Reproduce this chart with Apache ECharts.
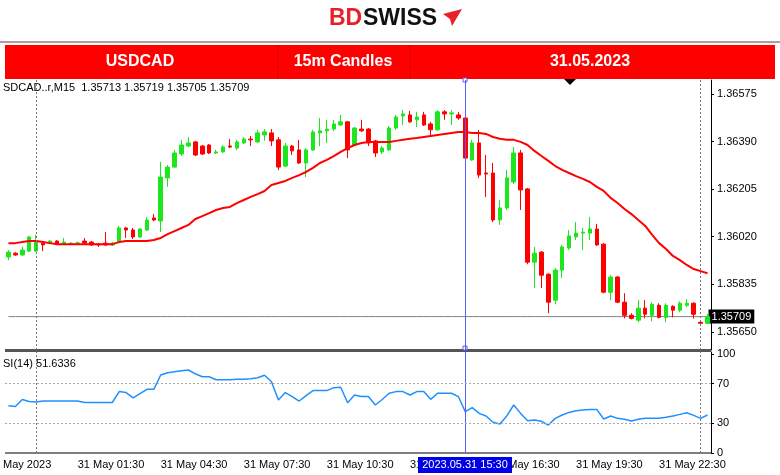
<!DOCTYPE html>
<html>
<head>
<meta charset="utf-8">
<script src="https://cdn.jsdelivr.net/npm/echarts@6/dist/echarts.min.js"></script>
<style>
  html, body { margin: 0; padding: 0; background: #fff; }
  #chart { width: 780px; height: 475px; }
</style>
</head>
<body>
<div id="chart"></div>
<script>
(function () {

	// 15m candles, 30 May 23:00 .. 01 Jun 00:15  [open, close, low, high]
	var candles = [
		[1.35941,1.35960,1.35929,1.35968],[1.35956,1.35949,1.35945,1.35960],[1.35949,1.35968,1.35945,1.35980],
		[1.35964,1.36019,1.35960,1.36023],[1.35964,1.35999,1.35960,1.36027],[1.35995,1.35988,1.35964,1.35999],
		[1.35995,1.36003,1.35991,1.36007],[1.36003,1.35991,1.35988,1.36007],[1.35991,1.35999,1.35988,1.36015],
		[1.35991,1.35995,1.35988,1.35999],[1.35991,1.35996,1.35988,1.36001],[1.36003,1.35995,1.35991,1.36015],
		[1.35999,1.35988,1.35984,1.36003],[1.35991,1.35988,1.35980,1.35995],[1.35995,1.35988,1.35984,1.36038],
		[1.35988,1.35995,1.35984,1.35999],[1.35999,1.36054,1.35995,1.36062],[1.36054,1.36046,1.36015,1.36058],
		[1.36046,1.36019,1.36011,1.36054],[1.36019,1.36050,1.36015,1.36054],[1.36046,1.36085,1.36042,1.36097],
		[1.36093,1.36085,1.36081,1.36108],[1.36081,1.36252,1.36038,1.36311],[1.36249,1.36291,1.36214,1.36299],
		[1.36291,1.36346,1.36287,1.36358],[1.36342,1.36377,1.36334,1.36397],[1.36373,1.36385,1.36369,1.36408],
		[1.36389,1.36338,1.36334,1.36393],[1.36373,1.36342,1.36338,1.36377],[1.36377,1.36346,1.36342,1.36381],
		[1.36346,1.36350,1.36342,1.36358],[1.36350,1.36369,1.36346,1.36377],[1.36373,1.36369,1.36365,1.36400],
		[1.36365,1.36389,1.36358,1.36397],[1.36385,1.36400,1.36381,1.36408],[1.36400,1.36397,1.36373,1.36412],
		[1.36389,1.36424,1.36385,1.36436],[1.36416,1.36428,1.36393,1.36439],[1.36424,1.36393,1.36373,1.36439],
		[1.36397,1.36291,1.36280,1.36408],[1.36295,1.36373,1.36291,1.36385],[1.36373,1.36354,1.36338,1.36377],
		[1.36358,1.36307,1.36303,1.36397],[1.36307,1.36358,1.36252,1.36365],[1.36358,1.36428,1.36354,1.36436],
		[1.36424,1.36432,1.36373,1.36482],[1.36432,1.36439,1.36385,1.36475],[1.36439,1.36459,1.36432,1.36475],
		[1.36455,1.36467,1.36451,1.36494],[1.36467,1.36358,1.36326,1.36471],[1.36377,1.36443,1.36373,1.36447],
		[1.36439,1.36432,1.36428,1.36475],[1.36439,1.36385,1.36373,1.36443],[1.36393,1.36346,1.36330,1.36397],
		[1.36350,1.36365,1.36342,1.36373],[1.36358,1.36443,1.36354,1.36451],[1.36443,1.36486,1.36436,1.36494],
		[1.36490,1.36498,1.36455,1.36513],[1.36494,1.36467,1.36463,1.36510],[1.36475,1.36486,1.36447,1.36506],
		[1.36494,1.36455,1.36451,1.36506],[1.36459,1.36436,1.36416,1.36467],[1.36436,1.36506,1.36432,1.36513],
		[1.36506,1.36498,1.36475,1.36513],[1.36498,1.36502,1.36455,1.36513],[1.36494,1.36482,1.36475,1.36506],
		[1.36482,1.36326,1.36319,1.36486],[1.36319,1.36385,1.36315,1.36397],[1.36385,1.36260,1.36249,1.36436],
		[1.36268,1.36264,1.36175,1.36338],[1.36268,1.36085,1.36077,1.36307],[1.36085,1.36132,1.36066,1.36163],
		[1.36132,1.36249,1.36124,1.36280],[1.36233,1.36346,1.36225,1.36369],[1.36346,1.36202,1.36124,1.36358],
		[1.36206,1.35921,1.35913,1.36210],[1.35921,1.35956,1.35820,1.35980],[1.35960,1.35870,1.35820,1.35964],
		[1.35874,1.35765,1.35722,1.35878],[1.35773,1.35890,1.35757,1.35898],[1.35890,1.35980,1.35859,1.35988],
		[1.35976,1.36023,1.35968,1.36046],[1.36019,1.36034,1.36007,1.36077],[1.36034,1.36038,1.35968,1.36054],
		[1.36034,1.36050,1.36007,1.36097],[1.36050,1.35988,1.35984,1.36070],[1.35991,1.35804,1.35800,1.35995],
		[1.35804,1.35863,1.35773,1.35870],[1.35863,1.35765,1.35761,1.35867],[1.35765,1.35714,1.35702,1.35800],
		[1.35714,1.35702,1.35698,1.35722],[1.35695,1.35742,1.35687,1.35773],[1.35742,1.35718,1.35702,1.35773],
		[1.35714,1.35757,1.35691,1.35765],[1.35753,1.35706,1.35702,1.35761],[1.35706,1.35753,1.35687,1.35761],
		[1.35749,1.35734,1.35706,1.35753],[1.35734,1.35761,1.35726,1.35769],[1.35753,1.35761,1.35745,1.35777],
		[1.35761,1.35718,1.35702,1.35765],[1.35687,1.35683,1.35679,1.35691],[1.35683,1.35709,1.35680,1.35719]
	];

	// moving average (red line)
	var ma = [
		1.35995,1.35995,1.35999,1.36003,1.36003,1.35999,1.35995,1.35991,1.35991,1.35991,
		1.35991,1.35991,1.35991,1.35991,1.35991,1.35991,1.35999,1.36003,1.36003,1.36003,
		1.36003,1.36007,1.36015,1.36030,1.36042,1.36054,1.36066,1.36089,1.36100,1.36112,
		1.36124,1.36132,1.36136,1.36151,1.36163,1.36175,1.36186,1.36198,1.36221,1.36229,
		1.36237,1.36249,1.36260,1.36272,1.36288,1.36307,1.36319,1.36334,1.36350,1.36365,
		1.36377,1.36385,1.36389,1.36389,1.36389,1.36389,1.36393,1.36397,1.36401,1.36404,
		1.36408,1.36412,1.36416,1.36420,1.36424,1.36428,1.36428,1.36424,1.36424,1.36420,
		1.36408,1.36401,1.36397,1.36397,1.36389,1.36377,1.36354,1.36334,1.36315,1.36295,
		1.36280,1.36268,1.36256,1.36245,1.36233,1.36214,1.36198,1.36171,1.36151,1.36128,
		1.36108,1.36085,1.36062,1.36027,1.35995,1.35972,1.35945,1.35929,1.35910,1.35894,
		1.35886,1.35878
	];

	// RSI(14)
	var rsi = [
		47.8,47,54,52,51.5,52.5,52.5,52.5,52.5,52.5,52.5,51,51,51,51,51,62,61,55.6,60,
		64.3,64.3,78.8,81,82,83,83.8,80,77,77,74,74,74,74.5,74.5,75,76,78.5,72,53.5,
		61,57,52.5,58,63,63,63,66,66.4,50.8,58.6,57,57,48.5,54,60.3,62,62,58.6,62,
		62,54.2,60.3,60.3,60.3,57,41.7,45.8,40,37.4,31,29.3,37.4,48.5,40,32.6,33.3,32,28.3,35,
		38.4,41,42.7,43.5,44,44,34.3,37.4,35,34,32.3,34,35,35,35,36,37.4,39,40.7,38,
		35,38.4
	];

	var priceTicks = [1.36575, 1.36390, 1.36205, 1.36020, 1.35835, 1.35650];
	var rsiTicks = [0, 30, 70, 100];
	var rsiLevels = [30, 70];
	var timeTicks = ['01:30', '04:30', '07:30', '10:30', '13:30', '16:30', '19:30', '22:30'];
	var lastPrice = 1.35709;
	var cursorTime = '15:30';
	var daySeparators = [4, 100];

	// category labels (15 minute steps from 30 May 23:00)
	var times = [];
	for (var i = 0; i < candles.length; i++) {
		var m = (23 * 60 + i * 15) % (24 * 60);
		var hh = Math.floor(m / 60), mm = m % 60;
		times.push((hh < 10 ? '0' : '') + hh + ':' + (mm < 10 ? '0' : '') + mm);
	}
	var cursorIdx = times.indexOf(cursorTime, 20);
	var lastLine = times.map(function () { return lastPrice; });

	var font = 'Liberation Sans';

	var sepLines = daySeparators.map(function (d) {
		return { xAxis: d, lineStyle: { color: '#777', type: [2, 2], width: 1 } };
	});
	var cursorLine = { xAxis: cursorIdx, lineStyle: { color: '#5a5aff', type: 'solid', width: 1 } };

	var option = {
		animation: false,
		backgroundColor: '#fff',
		textStyle: { fontFamily: font },
		grid: [
			{ left: 5, right: 69, top: 80, height: 270 },
			{ left: 5, right: 69, top: 352, height: 101 }
		],
		xAxis: [
			{
				type: 'category', gridIndex: 0, data: times, boundaryGap: true,
				axisLine: { show: false }, axisTick: { show: false }, axisLabel: { show: false },
				splitLine: { show: false }
			},
			{
				type: 'category', gridIndex: 1, data: times, boundaryGap: true,
				axisLine: { show: false }, axisTick: { show: false },
				axisLabel: {
					interval: function (idx, val) { return idx > 4 && timeTicks.indexOf(val) >= 0; },
					formatter: function (val) { return '31 May ' + val; },
					align: 'left', margin: 6, fontSize: 11, color: '#000', fontFamily: font
				},
				splitLine: { show: false }
			}
		],
		yAxis: [
			{
				type: 'value', gridIndex: 0, position: 'right',
				min: 1.35579, max: 1.36630,
				axisLine: { show: true, lineStyle: { color: '#000' } },
				axisTick: { show: true, length: 3, customValues: priceTicks, lineStyle: { color: '#000' } },
				axisLabel: { customValues: priceTicks, margin: 6, fontSize: 11, color: '#000', fontFamily: font,
					formatter: function (v) { return v.toFixed(5); } },
				splitLine: { show: false }
			},
			{
				type: 'value', gridIndex: 1, position: 'right', min: 0, max: 102,
				axisLine: { show: true, lineStyle: { color: '#000' } },
				axisTick: { show: true, length: 3, customValues: rsiTicks, lineStyle: { color: '#000' } },
				axisLabel: { customValues: rsiTicks, margin: 6, fontSize: 11, color: '#000', fontFamily: font },
				splitLine: { show: false }
			}
		],
		series: [
			{
				type: 'line', xAxisIndex: 0, yAxisIndex: 0, data: lastLine, showSymbol: false, z: 1,
				lineStyle: { color: '#808080', width: 1 },
				endLabel: {
					show: true, distance: 1, formatter: lastPrice.toFixed(5),
					backgroundColor: '#000', color: '#fff', fontSize: 11, fontFamily: font,
					padding: [2, 3, 1, 3]
				}
			},
			{
				type: 'candlestick', xAxisIndex: 0, yAxisIndex: 0, data: candles, barWidth: 4, z: 2,
				itemStyle: { color: '#1ee61e', color0: '#ff0000', borderColor: '#1ee61e', borderColor0: '#ff0000', borderWidth: 1 },
				markLine: {
					silent: true, symbol: 'none',
					label: { show: false },
					data: sepLines.concat([cursorLine])
				}
			},
			{
				type: 'line', xAxisIndex: 0, yAxisIndex: 0, data: ma, showSymbol: false,
				lineStyle: { color: '#ff0000', width: 2 }, z: 3
			},
			{
				type: 'line', xAxisIndex: 1, yAxisIndex: 1, data: rsi, showSymbol: false,
				lineStyle: { color: '#1e90ff', width: 1.5 },
				markLine: {
					silent: true, symbol: 'none', label: { show: false },
					data: sepLines.concat([cursorLine]).concat(rsiLevels.map(function (l) {
						return { yAxis: l, lineStyle: { color: '#aaa', type: [2, 2], width: 1 } };
					}))
				}
			}
		],
		graphic: [
			// logo
			{ type: 'text', left: 329, top: 7, style: { text: 'BD', fill: '#e8202a', font: 'bold 23px ' + font } },
			{ type: 'text', left: 363, top: 7, style: { text: 'SWISS', fill: '#111', font: 'bold 23px ' + font } },
			{ type: 'polygon', shape: { points: [[443, 14], [462, 9], [452, 26], [450, 19]] }, style: { fill: '#e8202a' } },
			{ type: 'line', shape: { x1: 0, y1: 42, x2: 780, y2: 42 }, style: { stroke: '#6a3a3a', lineWidth: 1 } },
			// header bar
			{ type: 'rect', shape: { x: 5, y: 45, width: 770, height: 34 }, style: { fill: '#ff0000' } },
			{ type: 'line', shape: { x1: 278, y1: 45, x2: 278, y2: 79 }, style: { stroke: '#d40000', lineWidth: 1 } },
			{ type: 'line', shape: { x1: 410, y1: 45, x2: 410, y2: 79 }, style: { stroke: '#d40000', lineWidth: 1 } },
			{ type: 'text', x: 140, y: 62, style: { text: 'USDCAD', fill: '#fff', font: 'bold 16px ' + font, align: 'center', verticalAlign: 'middle' } },
			{ type: 'text', x: 343, y: 62, style: { text: '15m Candles', fill: '#fff', font: 'bold 16px ' + font, align: 'center', verticalAlign: 'middle' } },
			{ type: 'text', x: 590, y: 62, style: { text: '31.05.2023', fill: '#fff', font: 'bold 16px ' + font, align: 'center', verticalAlign: 'middle' } },
			{ type: 'polygon', shape: { points: [[564, 79], [576, 79], [570, 85]] }, style: { fill: '#000' } },
			// info texts
			{ type: 'text', left: 3, top: 82, style: { text: 'SDCAD..r,M15  1.35713 1.35719 1.35705 1.35709', fill: '#000', font: '11px ' + font } },
			{ type: 'text', left: 3, top: 358, style: { text: 'SI(14) 51.6336', fill: '#000', font: '11px ' + font } },
			// panel separator & frame
			{ type: 'rect', shape: { x: 5, y: 349, width: 706, height: 3 }, style: { fill: '#555' } },
			{ type: 'line', shape: { x1: 5, y1: 453, x2: 711, y2: 453 }, style: { stroke: '#000', lineWidth: 1 } },
			{ type: 'rect', shape: { x: 463, y: 78, width: 4, height: 4 }, style: { fill: '#fff', stroke: '#5a5aff' } },
			{ type: 'rect', shape: { x: 463, y: 346, width: 4, height: 4 }, style: { fill: '#fff', stroke: '#5a5aff' } },
			// bottom labels
			{ type: 'text', left: 3, top: 459, style: { text: 'May 2023', fill: '#000', font: '11px ' + font } },
			{ type: 'rect', z: 100, shape: { x: 418, y: 457, width: 94, height: 16 }, style: { fill: '#0000e6' } },
			{ type: 'text', z: 101, x: 465, y: 465, style: { text: '2023.05.31 15:30', fill: '#fff', font: '11px ' + font, align: 'center', verticalAlign: 'middle' } }
		]
	};

	var chart = echarts.init(document.getElementById('chart'));
	chart.setOption(option);

})();
</script>
</body>
</html>
